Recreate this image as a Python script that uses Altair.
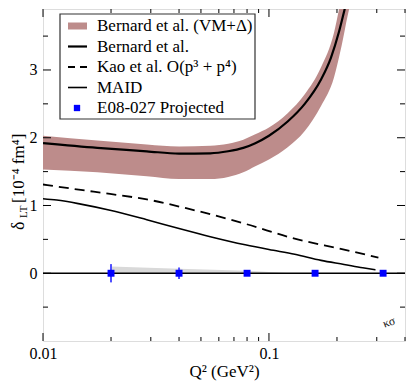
import altair as alt
import pandas as pd

# ---------------- data ----------------
band_q2 = [0.01, 0.0174, 0.0288, 0.04, 0.055, 0.066, 0.077, 0.087, 0.1, 0.121, 0.144, 0.17, 0.194, 0.21, 0.226, 0.235]
band_hi = [2.03, 1.96, 1.90, 1.87, 1.88, 1.91, 1.97, 2.05, 2.15, 2.36, 2.64, 3.04, 3.55, 4.10, 4.60, 5.00]
band_lo = [1.53, 1.49, 1.43, 1.39, 1.39, 1.42, 1.49, 1.58, 1.68, 1.86, 2.10, 2.47, 2.89, 3.37, 3.89, 4.10]

bern_q2 = [0.01, 0.0174, 0.0288, 0.04, 0.055, 0.066, 0.077, 0.087, 0.1, 0.121, 0.144, 0.17, 0.188, 0.204, 0.216, 0.222]
bern_v = [1.92, 1.85, 1.80, 1.765, 1.77, 1.80, 1.85, 1.92, 2.03, 2.24, 2.50, 2.86, 3.18, 3.56, 3.89, 4.05]

kao_q2 = [0.01, 0.0147, 0.0198, 0.0288, 0.043, 0.0785, 0.13, 0.215, 0.305]
kao_v = [1.31, 1.23, 1.17, 1.09, 0.96, 0.73, 0.51, 0.35, 0.23]

maid_q2 = [0.01, 0.0115, 0.0147, 0.0198, 0.0288, 0.04, 0.055, 0.0785, 0.1, 0.13, 0.17, 0.215, 0.26, 0.296]
maid_v = [1.10, 1.08, 1.02, 0.93, 0.79, 0.66, 0.54, 0.42, 0.35, 0.28, 0.19, 0.13, 0.08, 0.05]

proj_q2 = [0.02, 0.04, 0.08, 0.16, 0.32]
proj_v = [0.0, 0.0, 0.0, 0.0, 0.0]
proj_err = [0.135, 0.085, 0.02, 0.015, 0.015]

sys_q2 = [0.02, 0.04, 0.08, 0.125]
sys_hi = [0.10, 0.065, 0.035, 0.0]

x_major = [0.01, 0.1]
x_minor = [0.02, 0.03, 0.04, 0.05, 0.06, 0.07, 0.08, 0.09, 0.2, 0.3, 0.4]
y_major = [0, 1, 2, 3]
y_minor = [-0.5, 0.5, 1.5, 2.5, 3.5]
x_labels = [0.01, 0.1]
y_labels = [0, 1, 2, 3]

legend_labels = ["Bernard et al. (VM+\u0394)", "Bernard et al.", "Kao et al. O(p\u00b3 + p\u2074)", "MAID", "E08-027 Projected"]

# ---------------- styling ----------------
W, H = 362, 332
FONT = "Liberation Serif"
BAND = "#bd8c8b"
xscale = alt.Scale(type="log", domain=[0.01, 0.4], nice=False)
yscale = alt.Scale(domain=[-1, 3.9], nice=False, zero=False)
xaxis = alt.Axis(values=x_labels, format=".2~f", ticks=False, tickSize=0, domain=False, grid=False,
                 labelFont=FONT, labelFontSize=16, labelColor="black", labelPadding=4, labelFlush=False,
                 title="Q\u00b2 (GeV\u00b2)", titleFont=FONT, titleFontSize=17, titleFontWeight="normal",
                 titleColor="black", titlePadding=2)
yaxis = alt.Axis(values=y_labels, format="d", ticks=False, tickSize=0, domain=False, grid=False,
                 labelFont=FONT, labelFontSize=16, labelColor="black", labelPadding=6, labelFlush=False,
                 title=None)

def X(f):
    return alt.X(f, type="quantitative", scale=xscale, axis=xaxis)

def Y(f):
    return alt.Y(f, type="quantitative", scale=yscale, axis=yaxis)

band_df = pd.DataFrame({"q": band_q2, "hi": band_hi, "lo": band_lo})
bern_df = pd.DataFrame({"q": bern_q2, "v": bern_v})
kao_df = pd.DataFrame({"q": kao_q2, "v": kao_v})
maid_df = pd.DataFrame({"q": maid_q2, "v": maid_v})
proj_df = pd.DataFrame({"q": proj_q2, "v": proj_v, "e": proj_err})
proj_df["lo"] = proj_df["v"] - proj_df["e"]
proj_df["hi"] = proj_df["v"] + proj_df["e"]
sys_df = pd.DataFrame({"q": sys_q2, "hi": sys_hi, "z": [0.0] * len(sys_q2)})
one = pd.DataFrame({"a": [0]})

layers = []
layers.append(alt.Chart(band_df).mark_area(color=BAND, clip=True, interpolate="monotone").encode(
    x=X("q"), y=Y("hi"), y2="lo"))
layers.append(alt.Chart(sys_df).mark_area(color="#d9d9d9", clip=True).encode(
    x=X("q"), y=Y("hi"), y2="z"))
layers.append(alt.Chart(pd.DataFrame({"z": [0.0]})).mark_rule(color="black", strokeWidth=1.5).encode(y=Y("z")))
layers.append(alt.Chart(maid_df).mark_line(color="black", strokeWidth=1.6, clip=True, interpolate="monotone").encode(
    x=X("q"), y=Y("v")))
layers.append(alt.Chart(kao_df).mark_line(color="black", strokeWidth=1.8, strokeDash=[10, 6], clip=True,
                                          interpolate="monotone").encode(x=X("q"), y=Y("v")))
layers.append(alt.Chart(bern_df).mark_line(color="black", strokeWidth=2.2, clip=True, interpolate="monotone").encode(
    x=X("q"), y=Y("v")))
layers.append(alt.Chart(proj_df).mark_rule(color="#4f4fff", strokeWidth=2).encode(x=X("q"), y=Y("lo"), y2="hi"))
layers.append(alt.Chart(proj_df).mark_square(color="#0000ff", size=48, opacity=1).encode(x=X("q"), y=Y("v")))

# inward ticks on all four sides
for vals, L in ((x_major, 8), (x_minor, 4)):
    d = pd.DataFrame({"t": vals})
    layers.append(alt.Chart(d).mark_rule(color="black", strokeWidth=1).encode(
        x=X("t"), y=alt.value(H), y2=alt.value(H - L)))
    layers.append(alt.Chart(d).mark_rule(color="black", strokeWidth=1).encode(
        x=X("t"), y=alt.value(0), y2=alt.value(L)))
for vals, L in ((y_major, 8), (y_minor, 5)):
    d = pd.DataFrame({"t": vals})
    layers.append(alt.Chart(d).mark_rule(color="black", strokeWidth=1).encode(
        y=Y("t"), x=alt.value(0), x2=alt.value(L)))
    layers.append(alt.Chart(d).mark_rule(color="black", strokeWidth=1).encode(
        y=Y("t"), x=alt.value(W), x2=alt.value(W - L)))

# legend box
layers.append(alt.Chart(one).mark_rect(fill="white", stroke="#333333", strokeWidth=1.2).encode(
    x=alt.value(17), x2=alt.value(212), y=alt.value(5), y2=alt.value(110)))
row_y = [17 + i * 20.5 for i in range(len(legend_labels))]
sym_styles = [
    dict(color=BAND, strokeWidth=7),
    dict(color="black", strokeWidth=2.2),
    dict(color="black", strokeWidth=1.8, strokeDash=[7, 5]),
    dict(color="black", strokeWidth=1.6),
]
for i, lab in enumerate(legend_labels):
    if i < 4:
        layers.append(alt.Chart(one).mark_rule(**sym_styles[i]).encode(
            x=alt.value(25), x2=alt.value(44), y=alt.value(row_y[i])))
    else:
        layers.append(alt.Chart(one).mark_square(color="#0000ff", size=40, opacity=1).encode(
            x=alt.value(34), y=alt.value(row_y[i])))
    layers.append(alt.Chart(one).mark_text(text=lab, font=FONT, fontSize=17, align="left",
                                           baseline="middle", color="black").encode(
        x=alt.value(54), y=alt.value(row_y[i])))

# y-axis title pieces (with subscript)
layers.append(alt.Chart(one).mark_text(text="\u03b4", font=FONT, fontSize=18, angle=270, align="left",
                                       baseline="alphabetic", color="black").encode(
    x=alt.value(-19), y=alt.value(221)))
layers.append(alt.Chart(one).mark_text(text="LT", font=FONT, fontSize=11, angle=270, align="left",
                                       baseline="alphabetic", color="black").encode(
    x=alt.value(-16), y=alt.value(209)))
layers.append(alt.Chart(one).mark_text(text="[10\u207b\u2074 fm\u2074]", font=FONT, fontSize=17, angle=270,
                                       align="left", baseline="alphabetic", color="black").encode(
    x=alt.value(-19), y=alt.value(194)))
# small mark at bottom right
layers.append(alt.Chart(one).mark_text(text="\u03ba\u03c3", font=FONT, fontSize=12, angle=340, align="center",
                                       baseline="middle", color="#222222").encode(
    x=alt.value(W - 16), y=alt.value(H - 19)))

chart = alt.layer(*layers).properties(
    width=W, height=H,
    padding={"left": 35, "top": 1, "right": 2, "bottom": 41},
    autosize=alt.AutoSizeParams(type="none"),
).configure_view(stroke="black", strokeWidth=1.2).configure(background="white")

chart.save("out.html", embed_options={"renderer": "svg", "actions": False})
